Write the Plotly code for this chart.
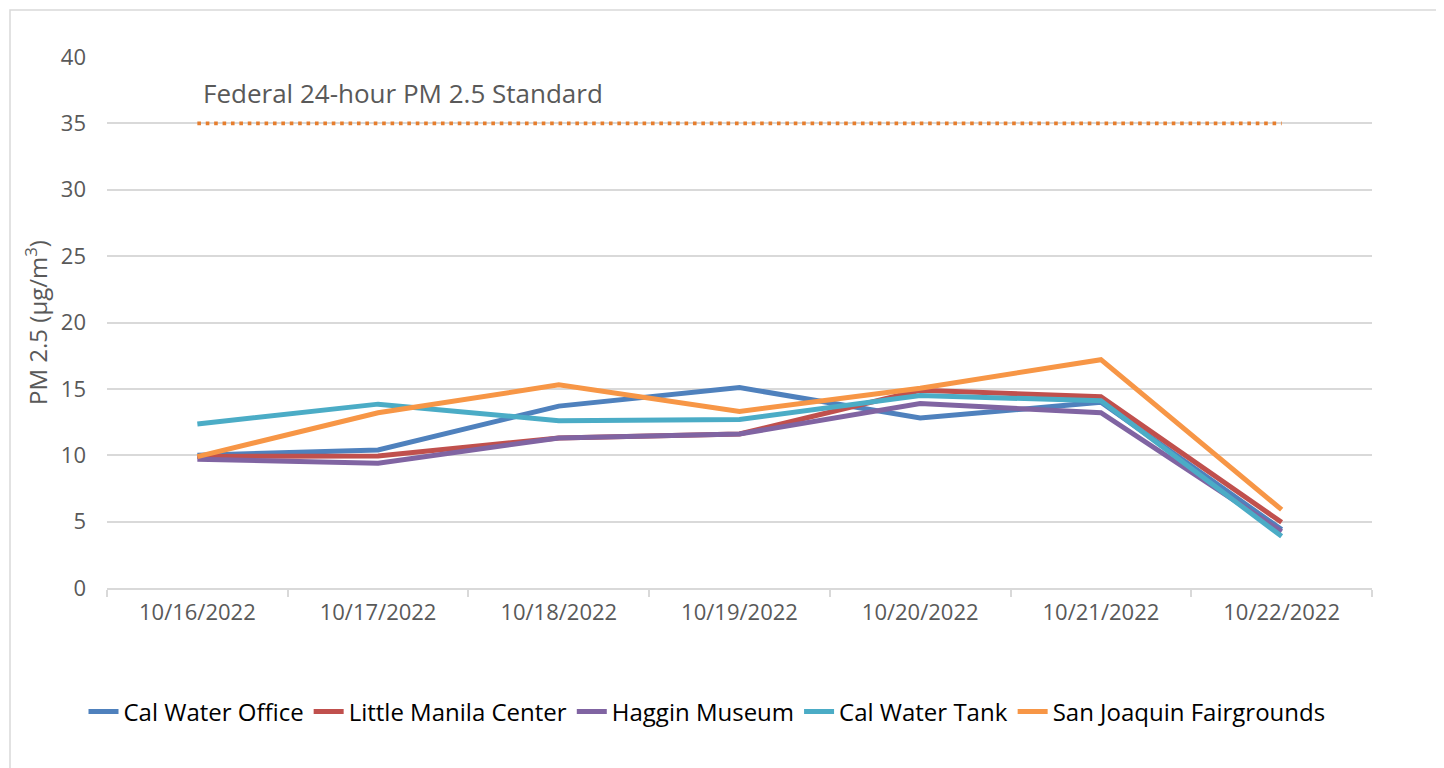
import plotly.graph_objects as go

dates = ["10/16/2022", "10/17/2022", "10/18/2022", "10/19/2022",
         "10/20/2022", "10/21/2022", "10/22/2022"]

cal_water_office = [10.0, 10.4, 13.7, 15.1, 12.8, 14.0, 4.4]
little_manila_center = [9.9, 9.95, 11.3, 11.6, 14.9, 14.4, 4.95]
haggin_museum = [9.7, 9.4, 11.3, 11.6, 13.9, 13.2, 4.25]
cal_water_tank = [12.35, 13.85, 12.6, 12.7, 14.5, 14.1, 3.9]
san_joaquin_fairgrounds = [9.9, 13.2, 15.3, 13.3, 15.05, 17.2, 5.9]

standard_value = 35
standard_label = "Federal 24-hour PM 2.5 Standard"

series_names = ["Cal Water Office", "Little Manila Center", "Haggin Museum",
                "Cal Water Tank", "San Joaquin Fairgrounds"]
series_values = [cal_water_office, little_manila_center, haggin_museum,
                 cal_water_tank, san_joaquin_fairgrounds]
colors = ["#4F81BD", "#C0504D", "#8064A2", "#4BACC6", "#F79646"]

FONT = "Open Sans"
W, H = 1444, 768
OFF = 8  # page offset of the figure
PL, PR, PT, PB = 107, 1372, 57, 588  # plot area in screen pixels
L, R, T, B = PL - OFF, W + OFF - PR, PT - OFF, H + OFF - PB
pw, ph = PR - PL, PB - PT

fig = go.Figure()

fig.add_trace(go.Scatter(
    x=dates, y=[standard_value] * len(dates), mode="lines",
    line=dict(color="#E67E2E", width=3.6, dash="3.6px,4.8px"),
    showlegend=False, hoverinfo="skip"))

for name, vals, c in zip(series_names, series_values, colors):
    fig.add_trace(go.Scatter(x=dates, y=vals, mode="lines", name=name,
                             line=dict(color=c, width=5)))

fig.add_annotation(x=dates[0], y=37.3, xref="x", yref="y", text=standard_label,
                   showarrow=False, xanchor="left", yanchor="middle", xshift=4,
                   font=dict(family=FONT, size=26, color="#595959"))

def px_x(p):
    return (p - PL) / pw

def px_y(p):
    return (PB - p) / ph

fig.add_shape(type="rect", xref="paper", yref="paper",
              x0=px_x(10), x1=px_x(1437), y0=px_y(790), y1=px_y(10),
              line=dict(color="#D9D9D9", width=1.5), fillcolor="rgba(0,0,0,0)",
              layer="below")

fig.update_layout(
    width=W, height=H,
    margin=dict(l=L, r=R, t=T, b=B),
    paper_bgcolor="white", plot_bgcolor="white",
    font=dict(family=FONT, color="#595959", size=22),
    legend=dict(orientation="h", x=px_x(707), xanchor="center", y=px_y(712),
                yanchor="middle", font=dict(family=FONT, size=24, color="#000000"),
                itemwidth=30, tracegroupgap=0),
    showlegend=True,
)

fig.update_xaxes(type="category", tickson="boundaries", ticks="outside",
                 ticklen=7, tickcolor="#D9D9D9", tickwidth=1.5,
                 showline=True, linecolor="#D9D9D9", linewidth=1.5,
                 showgrid=False, tickfont=dict(size=22, color="#595959"),
                 ticklabelstandoff=4,
                 range=[-0.5, len(dates) - 0.5])

fig.update_yaxes(range=[0, 40], dtick=5, showgrid=True, gridcolor="#D9D9D9",
                 gridwidth=1.5, zeroline=False, showline=False,
                 ticks="", ticklabelstandoff=20,
                 tickfont=dict(size=22, color="#595959"),
                 title=dict(text="PM 2.5 (µg/m<sup>3</sup>)",
                            font=dict(size=24, color="#595959"), standoff=6))

fig.write_html("out.html")
